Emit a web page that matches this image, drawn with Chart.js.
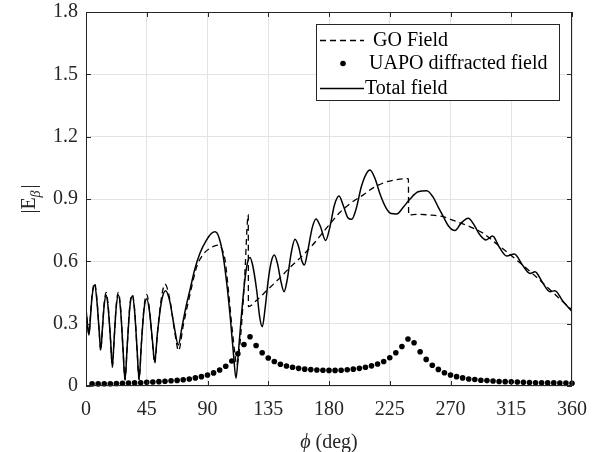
<!DOCTYPE html>
<html><head><meta charset="utf-8">
<script src="https://cdn.jsdelivr.net/npm/chart.js@4/dist/chart.umd.min.js"></script>
<style>html,body{margin:0;padding:0;background:#fff}#wrap{width:606px;height:452px}</style>
</head><body><div id="wrap"><canvas id="c" width="606" height="452"></canvas></div>
<script>
const xTicks = [0, 45, 90, 135, 180, 225, 270, 315, 360];
const xTickLabels = ['0', '45', '90', '135', '180', '225', '270', '315', '360'];
const yTicks = [0, 0.3, 0.6, 0.9, 1.2, 1.5, 1.8];
const yTickLabels = ['0', '0.3', '0.6', '0.9', '1.2', '1.5', '1.8'];
const seriesLabels = ['GO Field', 'UAPO diffracted field', 'Total field'];
const xTitleSym = 'ϕ';
const xTitleRest = ' (deg)';
const yTitleMain = '|E';
const yTitleSub = 'β';
const yTitleEnd = '|';

const phiTotal = [0,1.2,2.2,3.3,4.5,6.4,8.2,9.7,10.9,12.2,13.5,15,16.5,18.2,19.5,20.8,22.4,24,25.7,27.4,28.9,30.5,32.5,34.3,36,37.8,39.3,41,43,45,47,49.2,50.9,53,56,59,62,65.5,68.4,71,74,77,80.5,84.4,89,93,95.6,98.5,101.7,104.5,107,109.3,111.1,113,115,117.5,119.5,121.5,123.5,126.4,128.7,130.6,132.6,135,137.3,139.5,141.8,144.5,146.7,149,152,154.8,157.5,160,161.7,164,167.5,170.4,173.5,177.5,180.5,184,187.4,190.5,194,196.8,200,204,207.5,210.4,214,218,222,226,230.1,235,240,246,252.4,257,261,264.7,268.5,273.3,278,283.2,287,291.5,296.3,301.2,306,311.6,317.3,323,328.9,332.6,338,343.7,347.4,353,360];
const eTotal = [0.37,0.29,0.245,0.33,0.43,0.486,0.40,0.27,0.173,0.28,0.39,0.438,0.37,0.22,0.093,0.22,0.38,0.438,0.36,0.18,0.029,0.19,0.38,0.433,0.36,0.18,0.032,0.2,0.37,0.42,0.36,0.22,0.117,0.26,0.41,0.459,0.41,0.28,0.197,0.28,0.38,0.462,0.56,0.639,0.70,0.735,0.742,0.715,0.622,0.48,0.32,0.15,0.037,0.17,0.33,0.50,0.59,0.619,0.58,0.462,0.33,0.285,0.37,0.51,0.60,0.63,0.59,0.50,0.454,0.51,0.64,0.706,0.67,0.60,0.582,0.64,0.76,0.804,0.77,0.70,0.76,0.87,0.914,0.87,0.81,0.802,0.85,0.96,1.02,1.039,1.0,0.92,0.86,0.83,0.828,0.86,0.90,0.935,0.94,0.91,0.86,0.815,0.77,0.748,0.785,0.807,0.78,0.73,0.703,0.722,0.67,0.626,0.635,0.585,0.542,0.55,0.50,0.454,0.459,0.41,0.358];

const phiGO = [0,1.2,2.2,3.3,4.5,6.4,8.2,9.7,10.9,12.2,13.5,15,16.5,18.2,19.5,20.8,22.4,24,25.7,27.4,28.9,30.5,32.5,34.3,36,37.8,39.3,41,43,45,47,49.2,50.9,53,56,58.5,62,65.5,68.6,72,77,82,87,91.9,98,101,103,105.5,108,110.4,111.6,113.5,115.5,117.5,120.2,120.3,126,134,142,151,160,168,175,182,188,196,205.4,213,222.7,230,238.8,239,245,254.8,264.7,271,277,285,294.3,303,311.6,319,326.4,334,341.3,350,360];
const eGO = [0.38,0.29,0.25,0.34,0.44,0.495,0.41,0.27,0.17,0.28,0.40,0.45,0.38,0.22,0.09,0.22,0.39,0.45,0.37,0.18,0.03,0.19,0.39,0.44,0.37,0.18,0.03,0.2,0.38,0.44,0.37,0.21,0.11,0.26,0.43,0.49,0.42,0.27,0.17,0.29,0.44,0.574,0.635,0.663,0.678,0.655,0.606,0.46,0.29,0.15,0.10,0.17,0.32,0.52,0.823,0.382,0.41,0.46,0.51,0.57,0.625,0.68,0.735,0.79,0.835,0.88,0.92,0.955,0.983,0.993,0.998,0.823,0.826,0.823,0.815,0.80,0.785,0.765,0.735,0.69,0.646,0.606,0.566,0.522,0.478,0.425,0.366];

const phiUAPO = [4.5,9,13.5,18,22.5,27,31.5,36,40.5,45,49.5,54,58.5,63,67.5,72,76.5,81,85.5,90,94.5,99,103.5,108,112.5,117,121.5,126,130.5,135,139.5,144,148.5,153,157.5,162,166.5,171,175.5,180,184.5,189,193.5,198,202.5,207,211.5,216,220.5,225,229.5,234,238.5,243,247.5,252,256.5,261,265.5,270,274.5,279,283.5,288,292.5,297,301.5,306,310.5,315,319.5,324,328.5,333,337.5,342,346.5,351,355.5,360];
const eUAPO = [0.010,0.010,0.011,0.011,0.012,0.013,0.014,0.015,0.016,0.018,0.019,0.021,0.023,0.025,0.027,0.030,0.034,0.039,0.045,0.053,0.063,0.077,0.095,0.12,0.155,0.20,0.237,0.195,0.16,0.135,0.118,0.105,0.096,0.09,0.085,0.081,0.079,0.077,0.076,0.075,0.075,0.076,0.078,0.081,0.085,0.09,0.097,0.106,0.118,0.136,0.16,0.19,0.226,0.208,0.165,0.128,0.10,0.08,0.064,0.053,0.045,0.039,0.034,0.031,0.028,0.026,0.024,0.022,0.021,0.02,0.019,0.018,0.017,0.016,0.016,0.015,0.015,0.014,0.014,0.013];

const FONT = "'Liberation Serif','Times New Roman',serif";
const INK = '#262626';
const toPts = (xs, ys) => xs.map((x, i) => ({x: x, y: ys[i]}));

const framePlugin = {
  id: 'frame',
  afterDatasetsDraw(chart) {
    const {ctx, chartArea: a, scales} = chart;
    ctx.save();
    ctx.strokeStyle = INK; ctx.lineWidth = 1;
    ctx.strokeRect(Math.round(a.left) + 0.5, Math.round(a.top) + 0.5, Math.round(a.right - a.left) - 1, Math.round(a.bottom - a.top) - 1);
    ctx.beginPath();
    const L = 5;
    xTicks.forEach(v => {
      const px = Math.round(scales.x.getPixelForValue(v)) + 0.5;
      ctx.moveTo(px, a.bottom); ctx.lineTo(px, a.bottom - L);
      ctx.moveTo(px, a.top); ctx.lineTo(px, a.top + L);
    });
    yTicks.forEach(v => {
      const py = Math.round(scales.y.getPixelForValue(v)) + 0.5;
      ctx.moveTo(a.left, py); ctx.lineTo(a.left + L, py);
      ctx.moveTo(a.right, py); ctx.lineTo(a.right - L, py);
    });
    ctx.stroke();
    ctx.restore();
  }
};

const titlesPlugin = {
  id: 'titles',
  afterDraw(chart) {
    const ctx = chart.ctx;
    const a = chart.chartArea;
    ctx.save();
    ctx.fillStyle = INK;
    ctx.textBaseline = 'alphabetic';
    ctx.font = 'italic 20px ' + FONT;
    const ws = ctx.measureText(xTitleSym).width;
    ctx.font = '20px ' + FONT;
    const wr = ctx.measureText(xTitleRest).width;
    let xs = (a.left + a.right) / 2 - (ws + wr) / 2;
    ctx.font = 'italic 20px ' + FONT;
    ctx.fillText(xTitleSym, xs, 448);
    ctx.font = '20px ' + FONT;
    ctx.fillText(xTitleRest, xs + ws, 448);
    ctx.translate(35, (a.top + a.bottom) / 2);
    ctx.rotate(-Math.PI / 2);
    ctx.font = '20px ' + FONT;
    const w1 = ctx.measureText(yTitleMain).width;
    const w3 = ctx.measureText(yTitleEnd).width;
    ctx.font = 'italic 14px ' + FONT;
    const w2 = ctx.measureText(yTitleSub).width;
    const total = w1 + w2 + w3 + 2;
    let x = -total / 2;
    ctx.font = '20px ' + FONT;
    ctx.fillText(yTitleMain, x, 0);
    x += w1;
    ctx.font = 'italic 14px ' + FONT;
    ctx.fillText(yTitleSub, x, 5);
    x += w2 + 2;
    ctx.font = '20px ' + FONT;
    ctx.fillText(yTitleEnd, x, 0);
    ctx.restore();
  }
};

const legendPlugin = {
  id: 'boxLegend',
  afterDraw(chart) {
    const ctx = chart.ctx;
    const ds = chart.data.datasets;
    ctx.save();
    ctx.fillStyle = '#fff';
    ctx.fillRect(316.5, 24.5, 243, 76);
    ctx.strokeStyle = INK; ctx.lineWidth = 1;
    ctx.strokeRect(316.5, 24.5, 243, 76);
    ctx.fillStyle = '#000'; ctx.strokeStyle = '#000';
    ctx.font = '20px ' + FONT;
    ctx.textBaseline = 'middle'; ctx.textAlign = 'left';
    ctx.setLineDash([6, 4]); ctx.lineWidth = 1.3;
    ctx.beginPath(); ctx.moveTo(320, 40.5); ctx.lineTo(364, 40.5); ctx.stroke();
    ctx.setLineDash([]);
    ctx.fillText(ds[0].label, 373, 41);
    ctx.beginPath(); ctx.arc(343, 63.5, 2.8, 0, Math.PI * 2); ctx.fill();
    ctx.fillText(ds[1].label, 369, 64);
    ctx.lineWidth = 1.5;
    ctx.beginPath(); ctx.moveTo(320, 88.5); ctx.lineTo(364, 88.5); ctx.stroke();
    ctx.fillText(ds[2].label, 365, 89);
    ctx.restore();
  }
};

new Chart(document.getElementById('c'), {
  type: 'line',
  data: {
    datasets: [
      {label: seriesLabels[0], data: toPts(phiGO, eGO), borderColor: '#000', borderWidth: 1.3, borderDash: [6, 4],
       pointRadius: 0, cubicInterpolationMode: 'monotone', fill: false, order: 3},
      {label: seriesLabels[1], data: toPts(phiUAPO, eUAPO), showLine: false, pointRadius: 2.8, pointBackgroundColor: '#000',
       pointBorderWidth: 0, pointBorderColor: '#000', order: 1, clip: false},
      {label: seriesLabels[2], data: toPts(phiTotal, eTotal), borderColor: '#000', borderWidth: 1.5,
       pointRadius: 0, cubicInterpolationMode: 'monotone', fill: false, order: 2}
    ]
  },
  options: {
    responsive: false, animation: false, events: [],
    layout: {padding: {left: 0, right: 34, top: 0, bottom: 0}},
    plugins: {legend: {display: false}, tooltip: {enabled: false}},
    scales: {
      x: {
        type: 'linear', min: 0, max: 360,
        afterBuildTicks: s => { s.ticks = xTicks.map(v => ({value: v})); },
        afterFit: s => { s.height = 66; },
        grid: {color: '#e3e3e3', drawTicks: false, lineWidth: 1},
        border: {display: false},
        ticks: {padding: 12, color: INK, font: {family: FONT, size: 20}, maxRotation: 0, autoSkip: false,
                callback: (v, i) => xTickLabels[i]},
        title: {display: false}
      },
      y: {
        min: 0, max: 1.8,
        afterBuildTicks: s => { s.ticks = yTicks.map(v => ({value: v})); },
        afterFit: s => { s.width = 86; },
        grid: {color: '#e3e3e3', drawTicks: false, lineWidth: 1},
        border: {display: false},
        ticks: {padding: 8, color: INK, font: {family: FONT, size: 20, lineHeight: 0.4}, autoSkip: false,
                callback: (v, i) => yTickLabels[i]},
        title: {display: false}
      }
    }
  },
  plugins: [framePlugin, titlesPlugin, legendPlugin]
});
</script>
</body></html>
